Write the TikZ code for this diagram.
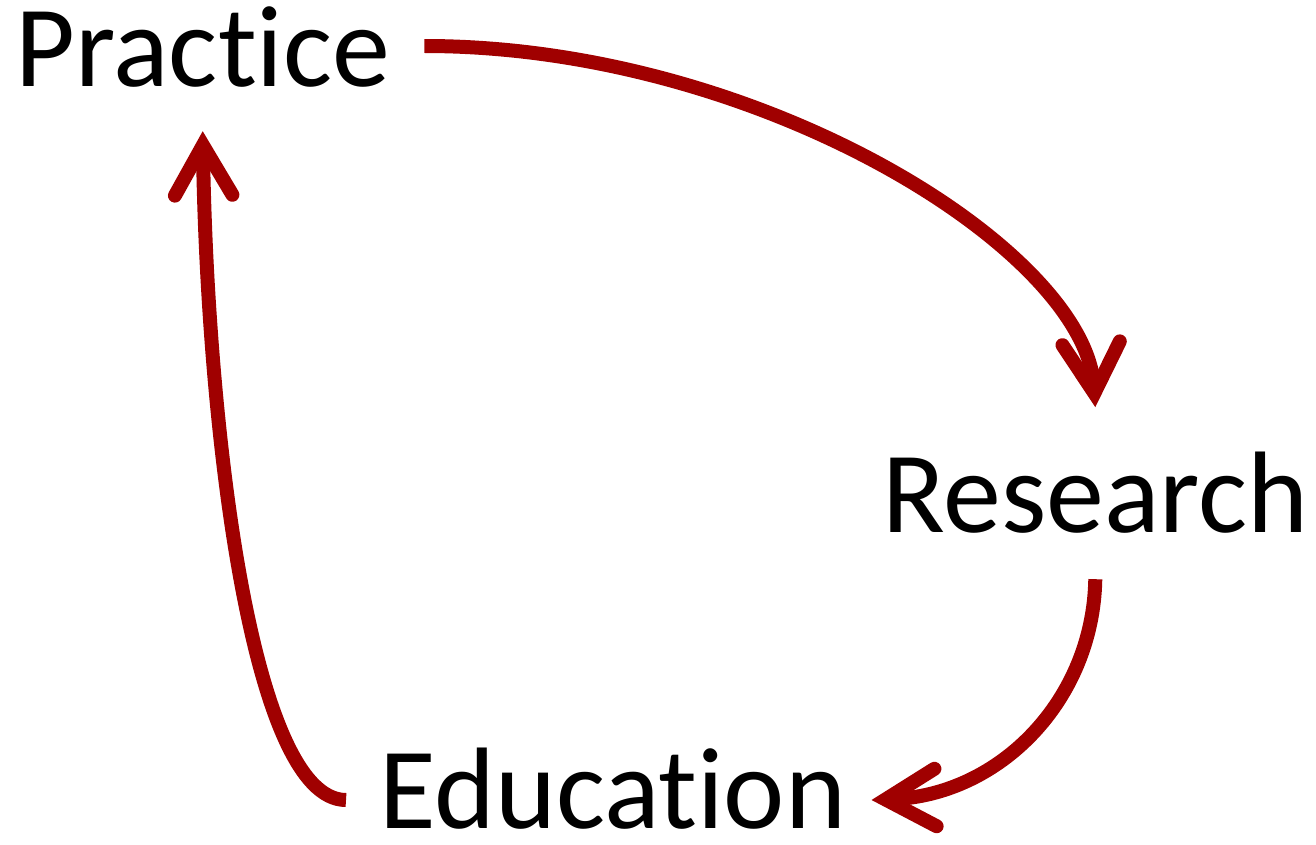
\documentclass[tikz,border=0pt]{standalone}
\usepackage{fontspec}
\setmainfont{Carlito}[Ligatures={NoCommon}]
\usepackage{xcolor}
\usetikzlibrary{arrows.meta}

\definecolor{cycred}{RGB}{160,0,0}

\begin{document}
\begin{tikzpicture}[x=0.02cm,y=-0.02cm,
  word/.style={inner sep=0pt,anchor=base west,font=\fontsize{66}{72}\selectfont},
  cycle arrow/.style={cycred,line width=0.28cm,
    -{Straight Barb[length=1.0cm,width=1.15cm,line cap=round,line join=miter]}}]
\useasboundingbox (0,0) rectangle (1316,845);

% the three words
\node[word] (practice) at (15,86) {Practice};
\node[word] (research) at (882,532) {Research};
\node[word] (education) at (379,828) {Education};

% draw the cycle
\draw[cycle arrow] ([shift={(34,-40)}]practice.base east)
  .. controls (760,46) and (1085,250) .. ([shift={(0,-44)}]research.north);
\draw[cycle arrow] ([shift={(0,46)}]research.south)
  .. controls (1093,700) and (1000,795) .. ([shift={(25,-28)}]education.base east);
\draw[cycle arrow] ([shift={(-33,-28)}]education.base west)
  .. controls (250,800) and (207,420) .. ([shift={(0,44)}]practice.south);

\end{tikzpicture}
\end{document}
